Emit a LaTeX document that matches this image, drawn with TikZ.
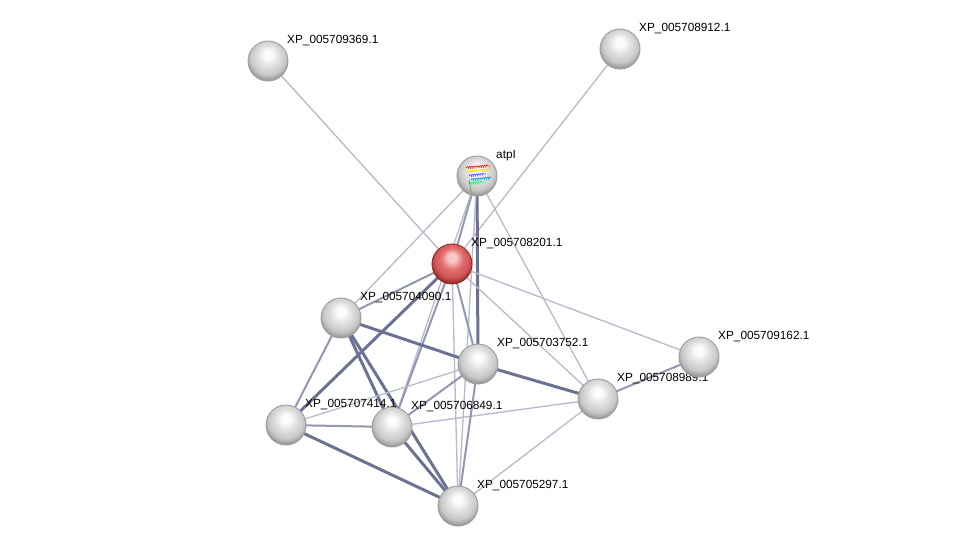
\documentclass[tikz,border=0pt]{standalone}
\usepackage{fontspec}
\setmainfont{Liberation Sans}
\usetikzlibrary{decorations.pathmorphing}
\pgfdeclarelayer{background}
\pgfsetlayers{background,main}
\definecolor{ethin}{RGB}{182,186,204}
\definecolor{emid}{RGB}{146,152,178}
\definecolor{ethick}{RGB}{108,115,146}
\definecolor{gA}{RGB}{252,252,252}
\definecolor{gB}{RGB}{222,222,222}
\definecolor{gC}{RGB}{200,200,200}
\definecolor{gD}{RGB}{150,150,150}
\definecolor{gE}{RGB}{95,95,95}
\definecolor{rA}{RGB}{250,200,200}
\definecolor{rB}{RGB}{226,108,108}
\definecolor{rC}{RGB}{208,84,86}
\definecolor{rD}{RGB}{150,40,42}
\definecolor{rE}{RGB}{110,20,22}
\pgfdeclareradialshading{sgray}{\pgfpoint{0bp}{9bp}}{color(0bp)=(gA); color(5bp)=(gA); color(14bp)=(gB); color(22bp)=(gC); color(28bp)=(gD); color(34bp)=(gE); color(50bp)=(gE)}
\pgfdeclareradialshading{sred}{\pgfpoint{0bp}{9bp}}{color(0bp)=(rA); color(5bp)=(rA); color(14bp)=(rB); color(22bp)=(rC); color(28bp)=(rD); color(34bp)=(rE); color(50bp)=(rE)}
\tikzset{
  ball/.style={circle, minimum size=40pt, inner sep=0pt, shading=sgray, draw=black!38, line width=0.9pt},
  redb/.style={circle, minimum size=40pt, inner sep=0pt, shading=sred, draw=rD, line width=0.9pt},
  lbl/.style={anchor=base west, inner sep=0pt, font=\fontsize{11.8}{13}\selectfont},
  e1/.style={draw=ethin, line width=1.3pt},
  e2/.style={draw=emid, line width=2pt},
  e3/.style={draw=ethick, line width=3pt},
  helix/.style={line width=0.6pt, decorate, decoration={coil, aspect=0.5, segment length=2.2pt, amplitude=1.3pt}},
}
\begin{document}
\begin{tikzpicture}[x=1pt, y=-1pt]
\begin{pgfonlayer}{background}
\path[use as bounding box, fill=white] (0,0) rectangle (976,552);
\end{pgfonlayer}
% labels (drawn under the balls)
\node[lbl] (l369) at (287,43) {XP\_005709369.1};
\node[lbl] (l912) at (639,31) {XP\_005708912.1};
\node[lbl] (latp) at (496,158) {atpI};
\node[lbl] (l201) at (471,246) {XP\_005708201.1};
\node[lbl] (l090) at (360,300) {XP\_005704090.1};
\node[lbl] (l752) at (497,346) {XP\_005703752.1};
\node[lbl] (l162) at (718,339) {XP\_005709162.1};
\node[lbl] (l989) at (617,381) {XP\_005708989.1};
\node[lbl] (l414) at (305,407) {XP\_005707414.1};
\node[lbl] (l849) at (411,409) {XP\_005706849.1};
\node[lbl] (l297) at (477,488) {XP\_005705297.1};
% nodes
\node[ball] (n369) at (268,61) {};
\node[ball] (n912) at (620,49) {};
\node[ball] (atpI) at (477,176) {};
\node[redb] (n201) at (452,264) {};
\node[ball] (n090) at (341,318) {};
\node[ball] (n752) at (478,364) {};
\node[ball] (n162) at (699,357) {};
\node[ball] (n989) at (598,399) {};
\node[ball] (n414) at (286,425) {};
\node[ball] (n849) at (392,427) {};
\node[ball] (n297) at (458,506) {};
% structure picture inside atpI
\draw[helix, red!80!orange] (466,168) -- (490,166);
\draw[helix, yellow!80!orange] (467,172) -- (491,170);
\draw[helix, blue!70] (469,176) -- (486,174);
\draw[helix, cyan!80!blue] (471,180) -- (491,178);
\draw[helix, green!60!cyan] (469,184) -- (484,182);
\draw[green!60!black, line width=0.4pt] (469,180) -- (471,192);
% edges
\begin{pgfonlayer}{background}
\draw[e1] (n369.center) -- (n201.center);
\draw[e1] (n912.center) -- (n201.center);
\draw[e2] (atpI.center) -- (n201.center);
\draw[e1] (atpI.center) -- (n849.center);
\draw[e1] (atpI.center) -- (n090.center);
\draw[e3] (atpI.center) -- (n752.center);
\draw[e1] (atpI.center) -- (n989.center);
\draw[e1] (atpI.center) -- (n297.center);
\draw[e2] (n201.center) -- (n090.center);
\draw[e3] (n201.center) -- (n414.center);
\draw[e2] (n201.center) -- (n849.center);
\draw[e2] (n201.center) -- (n752.center);
\draw[e1] (n201.center) -- (n297.center);
\draw[e1] (n201.center) -- (n989.center);
\draw[e1] (n201.center) -- (n162.center);
\draw[e3] (n090.center) -- (n752.center);
\draw[e2] (n090.center) -- (n414.center);
\draw[e3] (n090.center) -- (n849.center);
\draw[e3] (n090.center) -- (n297.center);
\draw[e1] (n414.center) -- (n752.center);
\draw[e2] (n414.center) -- (n849.center);
\draw[e3] (n414.center) -- (n297.center);
\draw[e2] (n849.center) -- (n752.center);
\draw[e3] (n849.center) -- (n297.center);
\draw[e1] (n849.center) -- (n989.center);
\draw[e2] (n752.center) -- (n297.center);
\draw[e3] (n752.center) -- (n989.center);
\draw[e1] (n297.center) -- (n989.center);
\draw[e2] (n989.center) -- (n162.center);
\end{pgfonlayer}
\end{tikzpicture}
\end{document}
